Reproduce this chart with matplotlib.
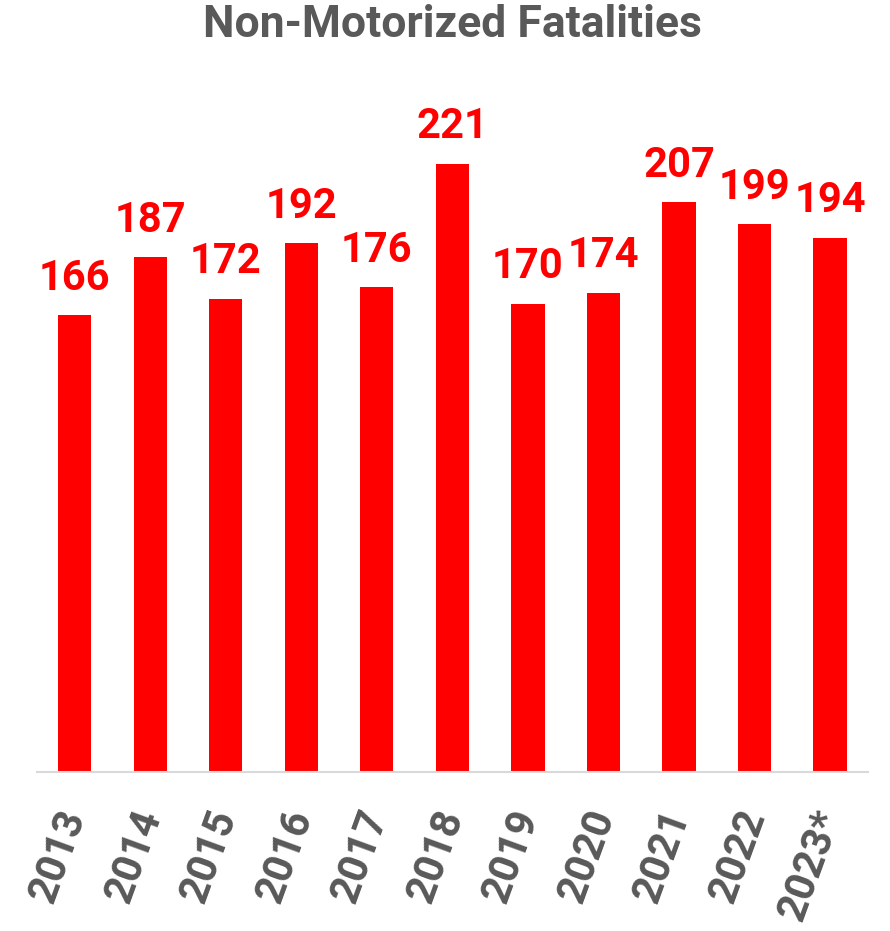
import matplotlib
matplotlib.use('Agg')
import matplotlib.pyplot as plt

years = ['2013', '2014', '2015', '2016', '2017', '2018', '2019', '2020', '2021', '2022', '2023*']
fatalities = [166, 187, 172, 192, 176, 221, 170, 174, 207, 199, 194]

red = '#ff0000'
grey = '#595959'
fnt = 'Roboto'

fig = plt.figure(figsize=(8.9, 9.31), dpi=100)
ax = fig.add_axes([0.0416, 0.1708, 0.9334, 0.7392])

x = range(len(years))
ax.bar(x, fatalities, width=0.44, color=red, zorder=2)

for i, v in enumerate(fatalities):
    ax.text(i, v + 6, str(v), ha='center', va='bottom', color=red,
            fontsize=30, fontweight='bold', family=fnt)

ax.set_xlim(-0.5, len(years) - 0.5)
ax.set_ylim(0, 250)
ax.set_yticks([])
ax.set_xticks(list(x))
ax.set_xticklabels(years, rotation=70, ha='right', va='center', rotation_mode='anchor',
                   fontsize=30, fontweight='bold', color=grey, family=fnt)
ax.tick_params(axis='x', length=0, pad=28)

for s in ['top', 'right', 'left']:
    ax.spines[s].set_visible(False)
ax.spines['bottom'].set_color('#d9d9d9')
ax.spines['bottom'].set_linewidth(1.5)

fig.text(0.508, 0.973, 'Non-Motorized Fatalities', ha='center', va='center',
         fontsize=32, fontweight='bold', color=grey, family=fnt)

fig.savefig('out.png', dpi=100)
